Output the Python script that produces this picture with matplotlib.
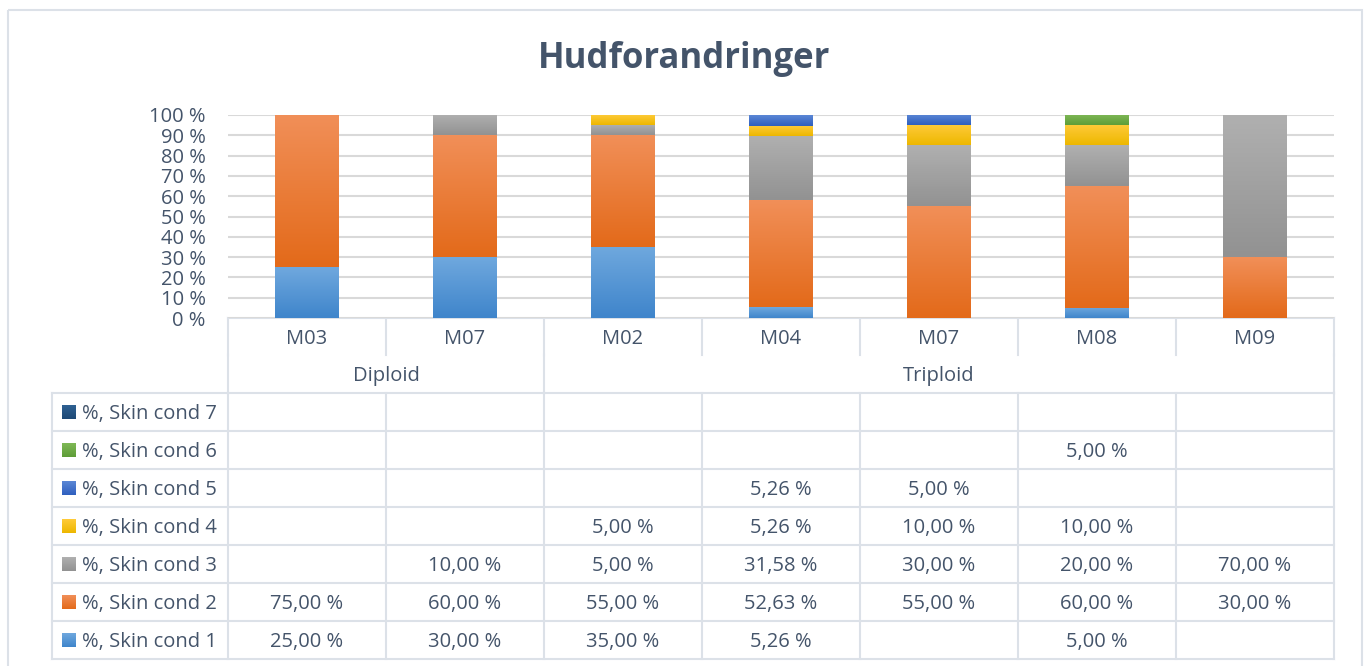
import matplotlib
matplotlib.use("Agg")
import matplotlib.pyplot as plt
from matplotlib.patches import Rectangle
from matplotlib.colors import to_rgb
import numpy as np

plt.rcParams['font.family'] = ['Open Sans', 'DejaVu Sans']

# data
categories = ["M03", "M07", "M02", "M04", "M07", "M08", "M09"]
groups = ["Diploid", "Triploid"]
group_sizes = [2, 5]
nan = np.nan
cond1 = [25.00, 30.00, 35.00, 5.26, nan, 5.00, nan]
cond2 = [75.00, 60.00, 55.00, 52.63, 55.00, 60.00, 30.00]
cond3 = [nan, 10.00, 5.00, 31.58, 30.00, 20.00, 70.00]
cond4 = [nan, nan, 5.00, 5.26, 10.00, 10.00, nan]
cond5 = [nan, nan, nan, 5.26, 5.00, nan, nan]
cond6 = [nan, nan, nan, nan, nan, 5.00, nan]
cond7 = [nan, nan, nan, nan, nan, nan, nan]
series = [cond1, cond2, cond3, cond4, cond5, cond6, cond7]
names = ["%, Skin cond 1", "%, Skin cond 2", "%, Skin cond 3", "%, Skin cond 4",
         "%, Skin cond 5", "%, Skin cond 6", "%, Skin cond 7"]

# gradient (top, bottom) per series
grads = [("#6FA8DE", "#3F85CB"),
         ("#F18F58", "#E36A1A"),
         ("#B0B0B0", "#929292"),
         ("#FFCB3A", "#EDB700"),
         ("#5B87D5", "#2F5FBF"),
         ("#7FB856", "#5E9D38"),
         ("#2F6192", "#1E4976")]

txt = "#44546A"
line = "#DCE1E8"
fs = 14.5
dy = 2  # small nudge down for text in table cells


def gradient(a, x0, x1, y_lo, y_hi, c_top, c_bot, z):
    t = np.array(to_rgb(c_top))
    b = np.array(to_rgb(c_bot))
    k = np.linspace(0, 1, 64)[:, None]
    img = (t * (1 - k) + b * k)[:, None, :]
    a.imshow(img, extent=(x0, x1, y_lo, y_hi), aspect='auto', origin='upper',
             interpolation='bilinear', zorder=z)


W, H = 1368, 666
fig = plt.figure(figsize=(W / 100, H / 100), dpi=100)
bg = fig.add_axes([0, 0, 1, 1])
bg.axis('off')

# outer chart border
bg.add_patch(Rectangle((8, 10), 1354, 700, fill=False, ec=line, lw=1.5))

bg.text(684, 59, "Hudforandringer", ha='center', va='center', fontsize=25,
        fontweight='bold', color=txt)

left, right, top, bottom = 228, 1334, 115, 318
colw = (right - left) / len(categories)

ax = fig.add_axes([left / W, 1 - bottom / H, (right - left) / W, (bottom - top) / H])
for s in ax.spines.values():
    s.set_visible(False)
ax.set_xticks([])
ax.set_yticks(np.arange(0, 101, 10))
ax.set_yticklabels([f"{v} %" for v in range(0, 101, 10)], color=txt, fontsize=fs)
ax.tick_params(axis='y', length=0, pad=16)
ax.yaxis.grid(True, color="#D9D9D9", lw=1.5, zorder=0)
ax.set_axisbelow(True)

x = np.arange(len(categories))
base = np.zeros(len(categories))
for vals, (c_top, c_bot) in zip(series, grads):
    v = np.nan_to_num(np.array(vals, dtype=float))
    bars = ax.bar(x, v, 0.405, bottom=base, color='none', lw=0, zorder=2)
    for r, h in zip(bars, v):
        if h <= 0:
            continue
        gradient(ax, r.get_x(), r.get_x() + r.get_width(), r.get_y(), r.get_y() + h,
                 c_top, c_bot, 3)
    base += v
ax.set_xlim(-0.5, len(categories) - 0.5)
ax.set_ylim(0, 100)

# data table
row_h = 38
cat_y = 336.5
grp_y = 374
rows_top = 393
legend_left = 52
edges = [left + colw * i for i in range(len(categories) + 1)]

for e in edges:
    bg.plot([e, e], [bottom, 355], color=line, lw=1.5)
bg.plot([left, right], [bottom, bottom], color=line, lw=1.5)
for i, c in enumerate(categories):
    bg.text(left + colw * (i + 0.5), cat_y + dy, c, ha='center', va='center', fontsize=fs, color=txt)

start = 0
for g, n in zip(groups, group_sizes):
    bg.plot([edges[start], edges[start]], [355, rows_top], color=line, lw=1.5)
    bg.text((edges[start] + edges[start + n]) / 2, grp_y + dy, g, ha='center', va='center',
            fontsize=fs, color=txt)
    start += n
bg.plot([right, right], [355, rows_top], color=line, lw=1.5)

n_rows = len(series)
for j in range(n_rows + 1):
    y = rows_top + row_h * j
    bg.plot([legend_left, right], [y, y], color=line, lw=1.5)
y_end = rows_top + row_h * n_rows
for e in [legend_left] + edges:
    bg.plot([e, e], [rows_top, y_end], color=line, lw=1.5)

for j in range(n_rows):
    idx = n_rows - 1 - j
    yc = rows_top + row_h * (j + 0.5)
    c_top, c_bot = grads[idx]
    gradient(bg, 62, 76, yc + 7, yc - 7, c_top, c_bot, 3)
    bg.text(82, yc + dy, names[idx], ha='left', va='center', fontsize=fs, color=txt)
    for i, v in enumerate(series[idx]):
        if np.isnan(v):
            continue
        s = f"{v:.2f}".replace('.', ',') + " %"
        bg.text(left + colw * (i + 0.5), yc + dy, s, ha='center', va='center', fontsize=fs, color=txt)

bg.set_xlim(0, W)
bg.set_ylim(H, 0)

fig.savefig("out.png", dpi=100)
